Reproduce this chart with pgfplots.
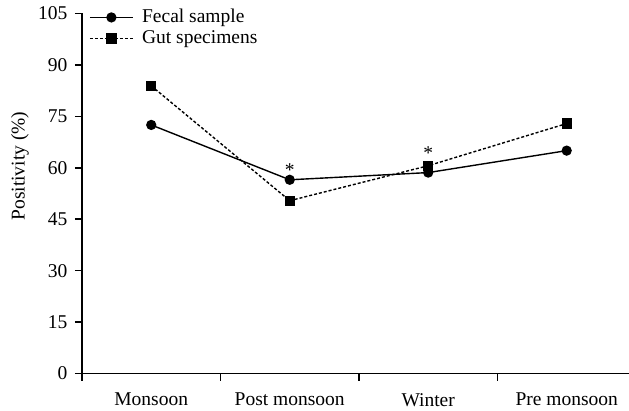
\documentclass[border=0pt]{standalone}
\usepackage{fontspec}
\setmainfont{Liberation Serif}
\usepackage{pgfplots}
\pgfplotsset{compat=1.18}
\usetikzlibrary{calc}
\begin{document}
\fontsize{19.5}{22}\selectfont
\begin{tikzpicture}
\begin{axis}[
  scale only axis,
  width=547pt, height=360pt,
  xmin=0, xmax=3.95, ymin=0, ymax=105,
  axis x line*=bottom, axis y line*=left,
  axis line style={line width=1.8pt},
  ytick={0,15,...,105},
  xtick={0,1,2,3}, xticklabels={},
  extra x ticks={0.5,1.5,2.5,3.5},
  extra x tick labels={Monsoon,Post monsoon,Winter,Pre monsoon},
  extra x tick style={major tick length=0pt, xticklabel style={yshift=-13pt}},
  tick align=outside,
  major tick length=7pt,
  tick style={line width=1.5pt, black},
  /pgf/number format/assume math mode=true,
  tick label style={font=\fontsize{19.5}{22}\selectfont},
  yticklabel style={xshift=-1pt},
  ylabel={Positivity (\%)},
  ylabel style={at={(rel axis cs:0,0.576)}, anchor=center, yshift=62pt, font=\fontsize{19.5}{22}\selectfont},
  legend style={draw=none, fill=none, at={(rel axis cs:0,1)}, anchor=north west,
    xshift=4pt, yshift=8pt, font=\fontsize{19.5}{22}\selectfont, row sep=2pt, column sep=7pt,
    nodes={inner sep=1.5pt}},
  legend cell align=left,
  legend image code/.code={\draw[mark repeat=2,mark phase=2,#1] plot coordinates {(0pt,0pt) (21.5pt,0pt) (43pt,0pt)};},
  clip=false,
]
\addplot[black, line width=1.4pt, mark=*, mark size=4.4pt, mark options={solid}]
  coordinates {(0.5,72.5) (1.5,56.5) (2.5,58.6) (3.5,65.0)};
\addlegendentry{Fecal sample}
\addplot[black, line width=1.4pt, dash pattern=on 3pt off 2pt, mark=square*, mark size=4.4pt, mark options={solid}]
  coordinates {(0.5,83.9) (1.5,50.4) (2.5,60.6) (3.5,72.9)};
\addlegendentry{Gut specimens}
\node[font=\fontsize{19.5}{22}\selectfont] at (axis cs:1.5,59.2) {*};
\node[font=\fontsize{19.5}{22}\selectfont] at (axis cs:2.5,64.3) {*};
\coordinate (ll) at (rel axis cs:0,0);
\end{axis}
\pgfresetboundingbox
\useasboundingbox ($(ll)+(-82pt,-36.5pt)$) rectangle ($(ll)+(547pt,373.5pt)$);
\end{tikzpicture}
\end{document}
